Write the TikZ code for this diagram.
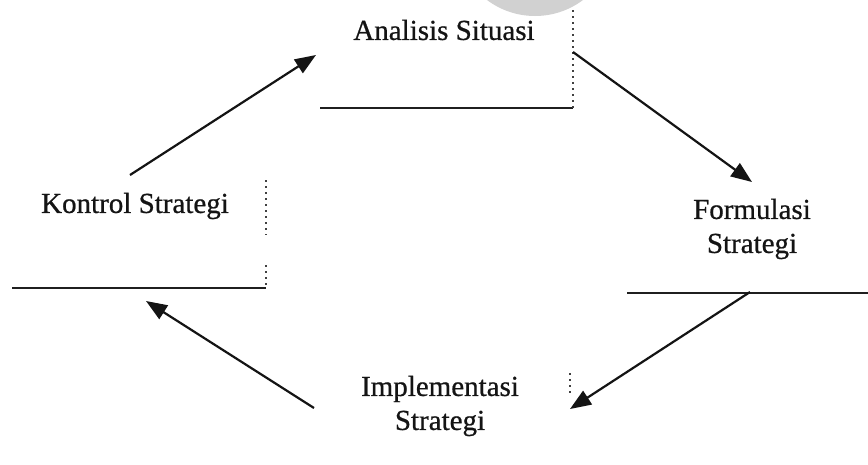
\documentclass[tikz,border=0pt]{standalone}
\usepackage{fontspec}
\setmainfont[FakeBold=0.7]{Liberation Serif}
\usetikzlibrary{arrows.meta}
\begin{document}
\begin{tikzpicture}[x=1pt,y=-1pt,
  lbl/.style={font=\fontsize{29}{34}\selectfont, text=black!92, align=center, inner sep=0pt},
  rule/.style={line width=1.8pt, black!88},
  dotrule/.style={line width=1.3pt, black!75, dash pattern=on 1.5pt off 4.5pt},
  flow/.style={line width=2.2pt, black!92, -{Triangle[length=21pt,width=16pt]}}]
  \useasboundingbox (0,0) rectangle (868,464);
  % faint grey disc cut by the top edge
  \begin{scope}
    \clip (0,0) rectangle (868,464);
    \fill[black!18] (535,-64) circle (80);
  \end{scope}

  % stage labels
  \node[lbl] (analisis) at (444,30) {Analisis Situasi};
  \node[lbl] (kontrol) at (135,206) {Kontrol Strategi};
  \node[lbl] (formulasi) at (752,229) {Formulasi\\Strategi};
  \node[lbl] (implementasi) at (440,406) {Implementasi\\Strategi};

  % open frames under the labels
  \draw[rule] (320,108) -- (573,108);
  \draw[dotrule] (573,10) -- (573,108);
  \draw[rule] (12,288) -- (266,288);
  \draw[dotrule] (266,180) -- (266,235);
  \draw[dotrule] (266,265) -- (266,288);
  \draw[rule] (627,293) -- (868,293);
  \draw[dotrule] (570,373) -- (570,397);

  % arrow end points
  \coordinate (k-out) at (130,175);
  \coordinate (a-in) at (316,55);
  \coordinate (a-out) at (573,52);
  \coordinate (f-in) at (752,182);
  \coordinate (f-out) at (750,292);
  \coordinate (i-in) at (570,409);
  \coordinate (i-out) at (314,408);
  \coordinate (k-in) at (146,301);

  % cycle arrows
  \draw[flow] (k-out) -- (a-in);
  \draw[flow] (a-out) -- (f-in);
  \draw[flow] (f-out) -- (i-in);
  \draw[flow] (i-out) -- (k-in);
\end{tikzpicture}
\end{document}
